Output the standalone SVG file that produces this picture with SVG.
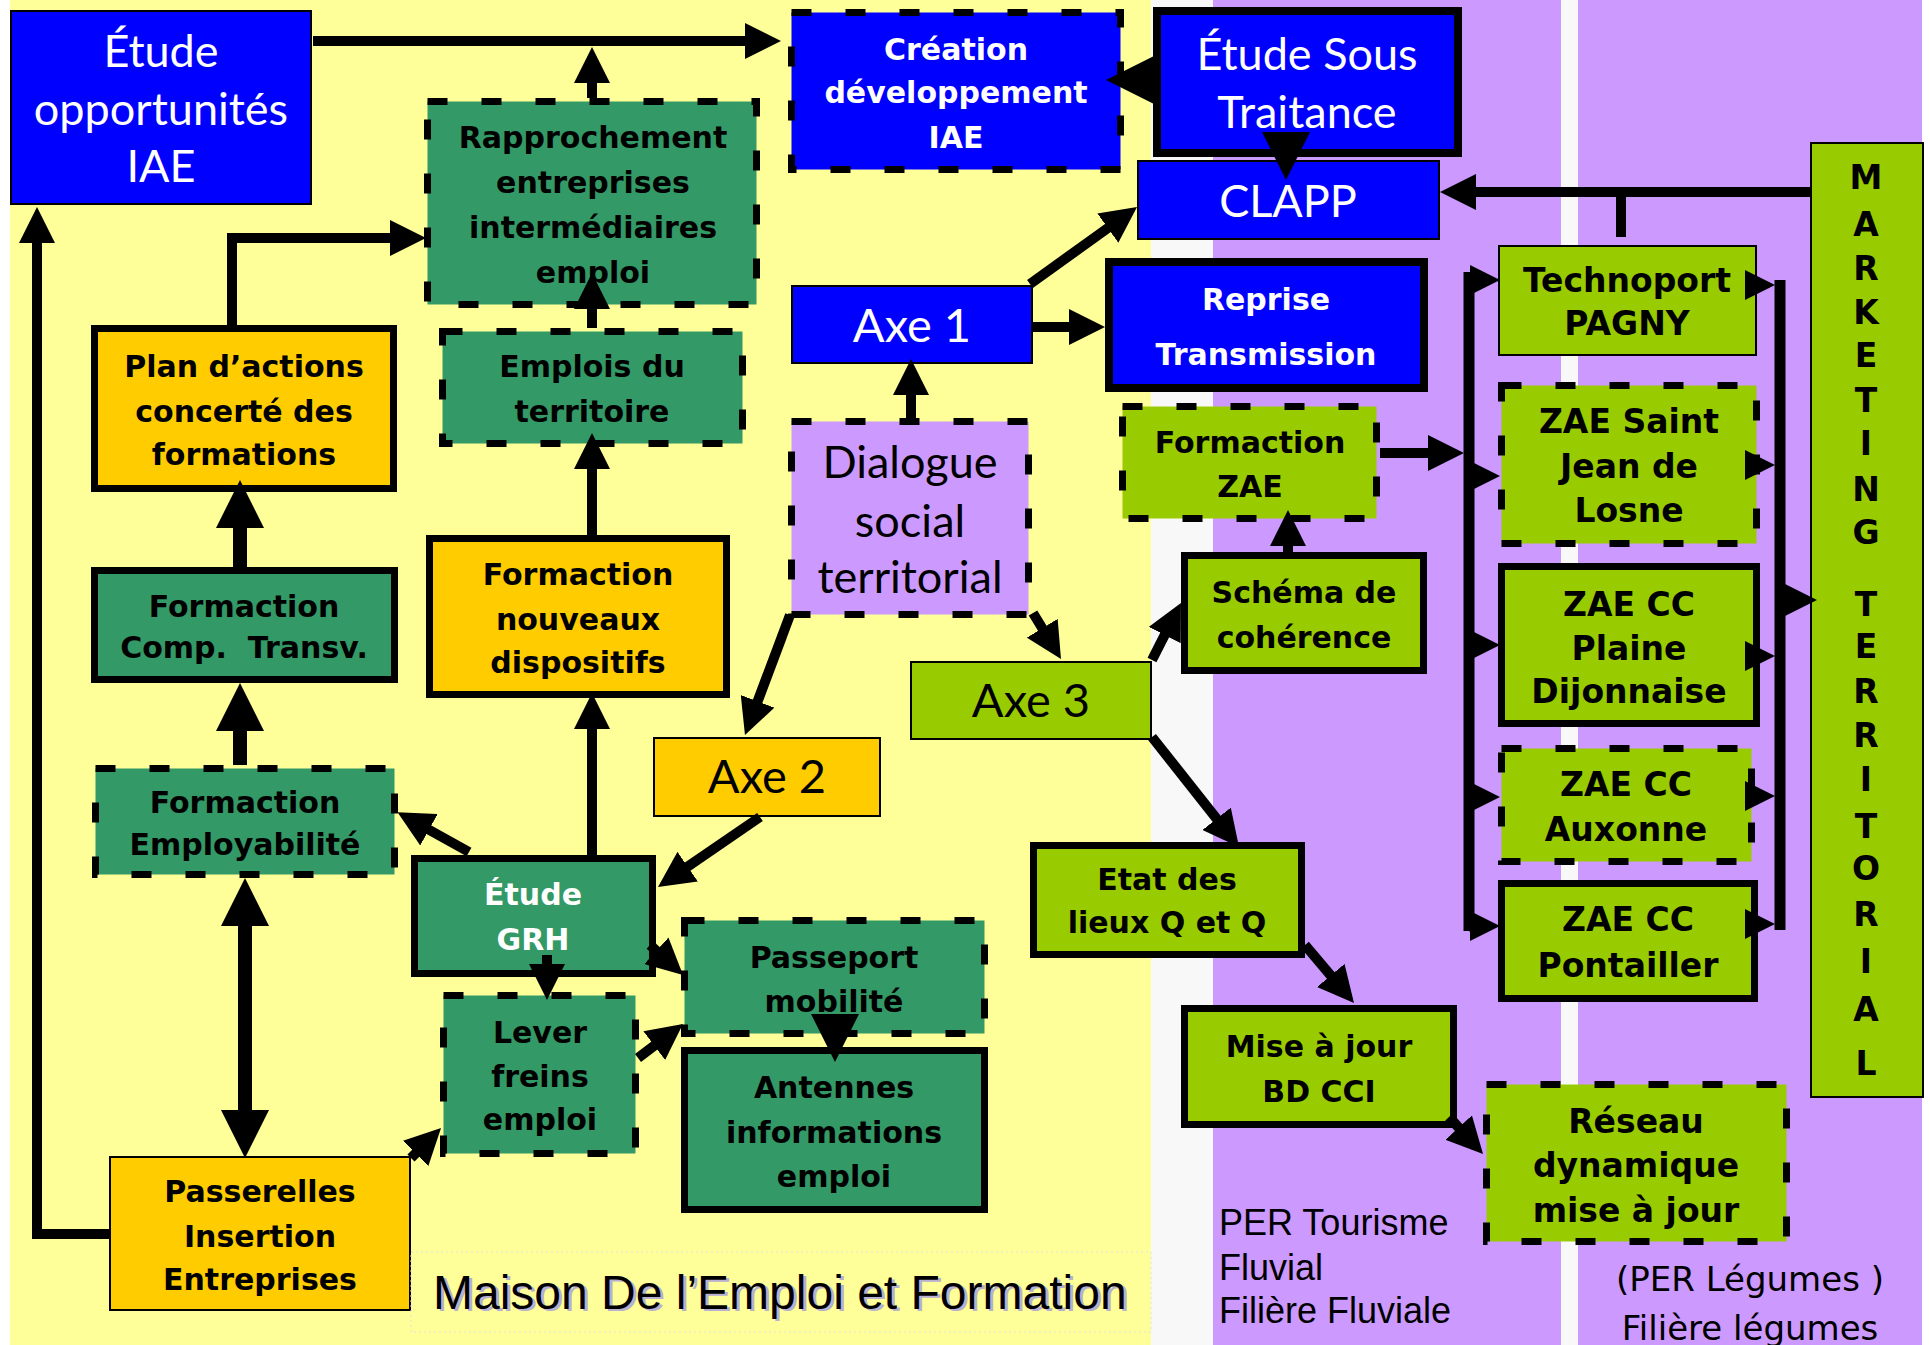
<svg xmlns="http://www.w3.org/2000/svg" width="1930" height="1345" viewBox="0 0 1930 1345">
<style>
.thin{stroke:#000;stroke-width:2}
.solid{stroke:#000;stroke-width:7}
.thick{stroke:#000;stroke-width:8}
.dash{stroke:#000;stroke-width:7;stroke-dasharray:20 34}
.blue{fill:#0000FF}.dg{fill:#339966}.or{fill:#FFCC00}.lg{fill:#99CC00}.pu{fill:#CC99FF}
text{text-anchor:middle;fill:#000}
.tb{font-family:"DejaVu Sans",sans-serif;font-weight:bold;font-size:30px}
.tr{font-family:"DejaVu Sans",sans-serif;font-weight:bold;font-size:33px}
.tl{font-family:Lato,"DejaVu Sans",sans-serif;font-size:45px}
.tw{fill:#fff}
.con path{fill:none;stroke:#000;stroke-width:10;stroke-linejoin:miter}
.con path.big{stroke-width:14}
.con path.bus{stroke-width:11}
.lab{font-family:"Liberation Sans",Arial,sans-serif;text-anchor:start}
</style>
<defs>
<marker id="a" markerUnits="userSpaceOnUse" markerWidth="36" markerHeight="36" refX="16" refY="18" orient="auto"><path d="M0,0 L36,18 L0,36 z" fill="#000"/></marker>
<marker id="aL" markerUnits="userSpaceOnUse" markerWidth="48" markerHeight="48" refX="23" refY="24" orient="auto"><path d="M0,0 L48,24 L0,48 z" fill="#000"/></marker>
<marker id="aLr" markerUnits="userSpaceOnUse" markerWidth="48" markerHeight="48" refX="23" refY="24" orient="auto-start-reverse"><path d="M0,0 L48,24 L0,48 z" fill="#000"/></marker>
<marker id="aS" markerUnits="userSpaceOnUse" markerWidth="30" markerHeight="30" refX="15" refY="15" orient="auto"><path d="M0,0 L30,15 L0,30 z" fill="#000"/></marker>
</defs>

<g id="background">
<rect x="0" y="0" width="1930" height="1345" fill="#FFFFFF"/>
<rect x="10" y="0" width="1141" height="1345" fill="#FFFF99"/>
<rect x="1151" y="0" width="62" height="1345" fill="#F8F8F8"/>
<rect x="1213" y="0" width="348" height="1345" fill="#CC99FF"/>
<rect x="1561" y="0" width="17" height="1345" fill="#F8F8F8"/>
<rect x="1578" y="0" width="344" height="1345" fill="#CC99FF"/>
</g>

<g id="etude-opportunites"><rect x="11" y="11" width="300" height="193" class="blue thin"/>
<text class="tl tw" x="161" y="67">Étude</text><text class="tl tw" x="161" y="125">opportunités</text><text class="tl tw" x="161" y="182">IAE</text></g>

<g id="creation"><rect x="791.5" y="12.5" width="329" height="157" class="blue dash"/>
<text class="tb tw" x="956" y="60">Création</text><text class="tb tw" x="956" y="103">développement</text><text class="tb tw" x="956" y="148">IAE</text></g>

<g id="etude-sous-traitance"><rect x="1157" y="11" width="301" height="142" class="blue thick"/>
<text class="tl tw" x="1307" y="70">Étude Sous</text><text class="tl tw" x="1307" y="128">Traitance</text></g>

<g id="clapp"><rect x="1138" y="161" width="301" height="78" class="blue thin"/>
<text class="tl tw" x="1288" y="217">CLAPP</text></g>

<g id="axe1"><rect x="792" y="286" width="240" height="77" class="blue thin"/>
<text class="tl tw" x="912" y="342" style="font-size:47px">Axe 1</text></g>

<g id="reprise"><rect x="1109" y="262" width="315" height="126" class="blue thick"/>
<text class="tb tw" x="1266" y="310">Reprise</text><text class="tb tw" x="1266" y="365">Transmission</text></g>

<g id="rapprochement"><rect x="427.5" y="101.5" width="329" height="203" class="dg dash"/>
<text class="tb" x="593" y="148">Rapprochement</text><text class="tb" x="593" y="193">entreprises</text><text class="tb" x="593" y="238">intermédiaires</text><text class="tb" x="593" y="283">emploi</text></g>

<g id="emplois-territoire"><rect x="442.5" y="331.5" width="300" height="112" class="dg dash"/>
<text class="tb" x="592" y="377">Emplois du</text><text class="tb" x="592" y="422">territoire</text></g>

<g id="plan-actions"><rect x="94.5" y="328.5" width="299" height="160" class="or solid"/>
<text class="tb" x="244" y="377">Plan d’actions</text><text class="tb" x="244" y="422">concerté des</text><text class="tb" x="244" y="465">formations</text></g>

<g id="formaction-comp"><rect x="94.5" y="570.5" width="300" height="109" class="dg solid"/>
<text class="tb" x="244" y="617">Formaction</text><text class="tb" x="244" y="658">Comp.&#160; Transv.</text></g>

<g id="formaction-nouveaux"><rect x="429.5" y="538.5" width="297" height="156" class="or solid"/>
<text class="tb" x="578" y="585">Formaction</text><text class="tb" x="578" y="630">nouveaux</text><text class="tb" x="578" y="673">dispositifs</text></g>

<g id="dialogue"><rect x="791.5" y="421.5" width="237" height="193" class="pu dash"/>
<text class="tl" x="910" y="478">Dialogue</text><text class="tl" x="910" y="537">social</text><text class="tl" x="910" y="593">territorial</text></g>

<g id="axe2"><rect x="654" y="738" width="226" height="78" class="or thin"/>
<text class="tl" x="767" y="793" style="font-size:47px">Axe 2</text></g>

<g id="axe3"><rect x="911" y="662" width="240" height="77" class="lg thin"/>
<text class="tl" x="1031" y="717" style="font-size:47px">Axe 3</text></g>

<g id="formaction-employabilite"><rect x="95.5" y="768.5" width="299" height="106" class="dg dash"/>
<text class="tb" x="245" y="813">Formaction</text><text class="tb" x="245" y="855">Employabilité</text></g>

<g id="etude-grh"><rect x="414.5" y="858.5" width="238" height="115" class="dg solid"/>
<text class="tb tw" x="533" y="905">Étude</text><text class="tb tw" x="533" y="950">GRH</text></g>

<g id="passeport"><rect x="684.5" y="920.5" width="300" height="113" class="dg dash"/>
<text class="tb" x="834" y="968">Passeport</text><text class="tb" x="834" y="1012">mobilité</text></g>

<g id="lever-freins"><rect x="443.5" y="995.5" width="192" height="158" class="dg dash"/>
<text class="tb" x="540" y="1043">Lever</text><text class="tb" x="540" y="1087">freins</text><text class="tb" x="540" y="1130">emploi</text></g>

<g id="antennes"><rect x="684.5" y="1050.5" width="300" height="159" class="dg solid"/>
<text class="tb" x="834" y="1098">Antennes</text><text class="tb" x="834" y="1143">informations</text><text class="tb" x="834" y="1187">emploi</text></g>

<g id="passerelles"><rect x="110" y="1157" width="300" height="153" class="or thin"/>
<text class="tb" x="260" y="1202">Passerelles</text><text class="tb" x="260" y="1247">Insertion</text><text class="tb" x="260" y="1290">Entreprises</text></g>

<g id="maison"><rect x="411" y="1252" width="740" height="80" fill="none" stroke="#E0E0E0" stroke-width="1" stroke-dasharray="2 3"/>
<text class="lab" x="436" y="1311" style="font-size:48px;fill:#B8B0D0">Maison De l’Emploi et Formation</text>
<text class="lab" x="433" y="1309" style="font-size:48px">Maison De l’Emploi et Formation</text></g>

<g id="formaction-zae"><rect x="1122.5" y="406.5" width="254" height="112" class="lg dash"/>
<text class="tb" x="1250" y="453">Formaction</text><text class="tb" x="1250" y="497">ZAE</text></g>

<g id="schema"><rect x="1184.5" y="555.5" width="239" height="115" class="lg solid"/>
<text class="tb" x="1304" y="603">Schéma de</text><text class="tb" x="1304" y="648">cohérence</text></g>

<g id="etat-lieux"><rect x="1033.5" y="845.5" width="268" height="109" class="lg solid"/>
<text class="tb" x="1167" y="890">Etat des</text><text class="tb" x="1167" y="933">lieux Q et Q</text></g>

<g id="mise-a-jour"><rect x="1184.5" y="1008.5" width="269" height="116" class="lg solid"/>
<text class="tb" x="1319" y="1057">Mise à jour</text><text class="tb" x="1319" y="1102">BD CCI</text></g>

<g id="reseau"><rect x="1486.5" y="1084.5" width="300" height="157" class="lg dash"/>
<text class="tr" x="1636" y="1133">Réseau</text><text class="tr" x="1636" y="1177">dynamique</text><text class="tr" x="1636" y="1222">mise à jour</text></g>

<g id="technoport"><rect x="1499" y="246" width="257" height="109" class="lg thin"/>
<text class="tr" x="1627" y="292">Technoport</text><text class="tr" x="1627" y="335">PAGNY</text></g>

<g id="zae-saint-jean"><rect x="1501.5" y="385.5" width="255" height="158" class="lg dash"/>
<text class="tr" x="1629" y="433">ZAE Saint</text><text class="tr" x="1629" y="478">Jean de</text><text class="tr" x="1629" y="522">Losne</text></g>

<g id="zae-plaine"><rect x="1501.5" y="566.5" width="255" height="157" class="lg solid"/>
<text class="tr" x="1629" y="616">ZAE CC</text><text class="tr" x="1629" y="660">Plaine</text><text class="tr" x="1629" y="703">Dijonnaise</text></g>

<g id="zae-auxonne"><rect x="1501.5" y="748.5" width="250" height="113" class="lg dash"/>
<text class="tr" x="1626" y="796">ZAE CC</text><text class="tr" x="1626" y="841">Auxonne</text></g>

<g id="zae-pontailler"><rect x="1501.5" y="883.5" width="253" height="115" class="lg solid"/>
<text class="tr" x="1628" y="931">ZAE CC</text><text class="tr" x="1628" y="977">Pontailler</text></g>

<g id="marketing"><rect x="1811" y="143" width="112" height="954" class="lg thin"/>
<g class="tr" style="font-size:34px">
<text class="tr" x="1866" y="189">M</text><text class="tr" x="1866" y="236">A</text><text class="tr" x="1866" y="280">R</text><text class="tr" x="1866" y="324">K</text><text class="tr" x="1866" y="367">E</text><text class="tr" x="1866" y="412">T</text><text class="tr" x="1866" y="455">I</text><text class="tr" x="1866" y="501">N</text><text class="tr" x="1866" y="544">G</text>
<text class="tr" x="1866" y="616">T</text><text class="tr" x="1866" y="658">E</text><text class="tr" x="1866" y="703">R</text><text class="tr" x="1866" y="747">R</text><text class="tr" x="1866" y="791">I</text><text class="tr" x="1866" y="838">T</text><text class="tr" x="1866" y="880">O</text><text class="tr" x="1866" y="926">R</text><text class="tr" x="1866" y="973">I</text><text class="tr" x="1866" y="1021">A</text><text class="tr" x="1866" y="1075">L</text>
</g></g>

<g id="per-tourisme">
<text class="lab" x="1219" y="1235" style="font-size:36px">PER Tourisme</text>
<text class="lab" x="1219" y="1280" style="font-size:36px">Fluvial</text>
<text class="lab" x="1219" y="1323" style="font-size:36px">Filière Fluviale</text>
</g>

<g id="per-legumes">
<text x="1750" y="1291" style="font-family:'DejaVu Sans',sans-serif;font-size:34px">(PER Légumes )</text>
<text x="1750" y="1340" style="font-family:'DejaVu Sans',sans-serif;font-size:34px">Filière légumes</text>
</g>

<g id="connectors" class="con">
<path d="M313,41 H761" marker-end="url(#a)"/>
<path d="M592,98 V67" marker-end="url(#a)"/>
<path d="M592,328 V293" marker-end="url(#a)"/>
<path d="M232,326 V238 H406" marker-end="url(#a)"/>
<path d="M592,535 V453" marker-end="url(#a)"/>
<path d="M592,855 V713" marker-end="url(#a)"/>
<path class="big" d="M240,567 V505" marker-end="url(#aL)"/>
<path class="big" d="M240,765 V708" marker-end="url(#aL)"/>
<path class="big" d="M245,903 V1133" marker-start="url(#aLr)" marker-end="url(#aLr)"/>
<path d="M109,1234 H37 V227" marker-end="url(#a)"/>
<path d="M469,852 L415,822" marker-end="url(#a)"/>
<path d="M760,817 L674.5,875.7" marker-end="url(#a)"/>
<path d="M790,615 L752,716.3" marker-end="url(#a)"/>
<path d="M911,418 V379" marker-end="url(#a)"/>
<path d="M1033,613 L1050.6,641.9" marker-end="url(#a)"/>
<path d="M1030,284 L1120.8,218.7" marker-end="url(#a)"/>
<path d="M1033,327 H1085" marker-end="url(#a)"/>
<path d="M1153,80 H1131" marker-end="url(#aL)"/>
<path d="M1286,133 V155" marker-end="url(#aL)"/>
<path d="M1810,192 H1460" marker-end="url(#a)"/>
<path d="M1621,192 V237"/>
<path d="M1380,453 H1444" marker-end="url(#a)"/>
<path class="bus" d="M1469,272 V931"/>
<path class="bus" d="M1469,280 H1485" marker-end="url(#aS)"/>
<path class="bus" d="M1469,476 H1485" marker-end="url(#aS)"/>
<path class="bus" d="M1469,645 H1485" marker-end="url(#aS)"/>
<path class="bus" d="M1469,797 H1485" marker-end="url(#aS)"/>
<path class="bus" d="M1469,926 H1485" marker-end="url(#aS)"/>
<path class="bus" d="M1780,280 V930"/>
<path class="bus" d="M1745,285 H1760" marker-end="url(#aS)"/>
<path class="bus" d="M1745,465 H1760" marker-end="url(#aS)"/>
<path class="bus" d="M1745,656 H1760" marker-end="url(#aS)"/>
<path class="bus" d="M1745,796 H1760" marker-end="url(#aS)"/>
<path class="bus" d="M1745,924 H1760" marker-end="url(#aS)"/>
<path d="M1780,600 H1797" marker-end="url(#a)"/>
<path d="M1152,660 L1171.9,620.8" marker-end="url(#a)"/>
<path d="M1288,552 V530" marker-end="url(#a)"/>
<path d="M1152,737 L1226.6,831.3" marker-end="url(#a)"/>
<path d="M1305,945 L1341.1,987.7" marker-end="url(#a)"/>
<path d="M1449,1117 L1469.5,1139.3" marker-end="url(#a)"/>
<path d="M547,955 V980" marker-end="url(#a)"/>
<path d="M650,945 L668.2,961.5" marker-end="url(#a)"/>
<path d="M638,1058 L667,1036" marker-end="url(#a)"/>
<path class="big" d="M835,1015 V1037" marker-end="url(#aL)"/>
<path d="M411,1158 L426.9,1142.1" marker-end="url(#a)"/>
</g>
</svg>
